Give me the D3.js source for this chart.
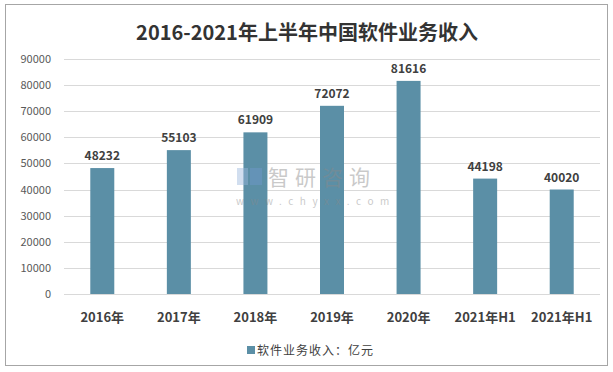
<!DOCTYPE html>
<html>
<head>
  <meta charset="utf-8">
  <script src="https://d3js.org/d3.v7.min.js"></script>
  <style>
    html, body { margin: 0; padding: 0; background: #fff; }
    text { font-family: "Noto Sans CJK SC", "Open Sans", sans-serif; }
  </style>
</head>
<body>
  <svg id="chart" width="613" height="372"></svg>
  <script>
    var categories = ["2016年", "2017年", "2018年", "2019年", "2020年", "2021年H1", "2021年H1"];
    var revenue = [48232, 55103, 61909, 72072, 81616, 44198, 40020];
    var yTicks = [0, 10000, 20000, 30000, 40000, 50000, 60000, 70000, 80000, 90000];

    var svg = d3.select("#chart");
    var plotLeft = 64, plotRight = 600, plotTop = 59, plotBottom = 294;

    // frame
    svg.append("rect")
      .attr("x", 5.5).attr("y", 4.5)
      .attr("width", 602).attr("height", 361)
      .attr("fill", "#fff").attr("stroke", "#a6a6a6").attr("stroke-width", 1);

    svg.append("text")
      .attr("x", 307).attr("y", 40)
      .attr("text-anchor", "middle")
      .attr("font-size", 20).attr("font-weight", "bold")
      .attr("fill", "#333")
      .text("2016-2021年上半年中国软件业务收入");

    var x = d3.scaleBand()
      .domain(d3.range(categories.length))
      .range([plotLeft, plotRight]);

    var y = d3.scaleLinear()
      .domain([0, 90000])
      .range([plotBottom, plotTop]);

    // gridlines
    svg.append("g").selectAll("line")
      .data(yTicks)
      .join("line")
      .attr("x1", plotLeft).attr("x2", plotRight)
      .attr("y1", d => Math.round(y(d)) + 0.5).attr("y2", d => Math.round(y(d)) + 0.5)
      .attr("stroke", "#d9d9d9");

    svg.append("g").selectAll("text")
      .data(yTicks)
      .join("text")
      .attr("x", 51).attr("y", d => y(d) + 4)
      .attr("text-anchor", "end")
      .attr("font-size", 11).attr("fill", "#595959")
      .text(d => d);

    var barW = 24;
    svg.append("g").selectAll("rect")
      .data(revenue)
      .join("rect")
      .attr("x", (d, i) => x(i) + x.bandwidth() / 2 - barW / 2)
      .attr("y", d => y(d))
      .attr("width", barW)
      .attr("height", d => plotBottom - y(d))
      .attr("fill", "#5b8fa6");

    svg.append("g").selectAll("text")
      .data(revenue)
      .join("text")
      .attr("x", (d, i) => x(i) + x.bandwidth() / 2)
      .attr("y", d => y(d) - 8)
      .attr("text-anchor", "middle")
      .attr("font-size", 12).attr("font-weight", "bold")
      .attr("fill", "#404040")
      .text(d => d);

    svg.append("g").selectAll("text")
      .data(categories)
      .join("text")
      .attr("x", (d, i) => x(i) + x.bandwidth() / 2)
      .attr("y", 322)
      .attr("text-anchor", "middle")
      .attr("font-size", 13).attr("font-weight", "bold")
      .attr("fill", "#404040")
      .text(d => d);

    // watermark, drawn over the bars
    var wm = svg.append("g").attr("opacity", 0.45);
    wm.append("rect").attr("x", 237).attr("y", 168).attr("width", 11).attr("height", 17).attr("fill", "#9ab8dc");
    wm.append("rect").attr("x", 250).attr("y", 168).attr("width", 12).attr("height", 17).attr("fill", "#6f98cc");
    wm.append("text").attr("x", 268).attr("y", 185)
      .attr("font-size", 21).attr("fill", "#8a8a8a").attr("letter-spacing", 6)
      .text("智研咨询");
    wm.append("text").attr("x", 236).attr("y", 205)
      .attr("font-size", 10).attr("fill", "#8a8a8a").attr("letter-spacing", 6.5)
      .text("www.chyxx.com");

    // legend
    svg.append("rect").attr("x", 247).attr("y", 346).attr("width", 8).attr("height", 8).attr("fill", "#5b8fa6");
    svg.append("text").attr("x", 257).attr("y", 355)
      .attr("font-size", 12).attr("fill", "#404040")
      .attr("letter-spacing", 1)
      .text("软件业务收入：亿元");
  </script>
</body>
</html>
